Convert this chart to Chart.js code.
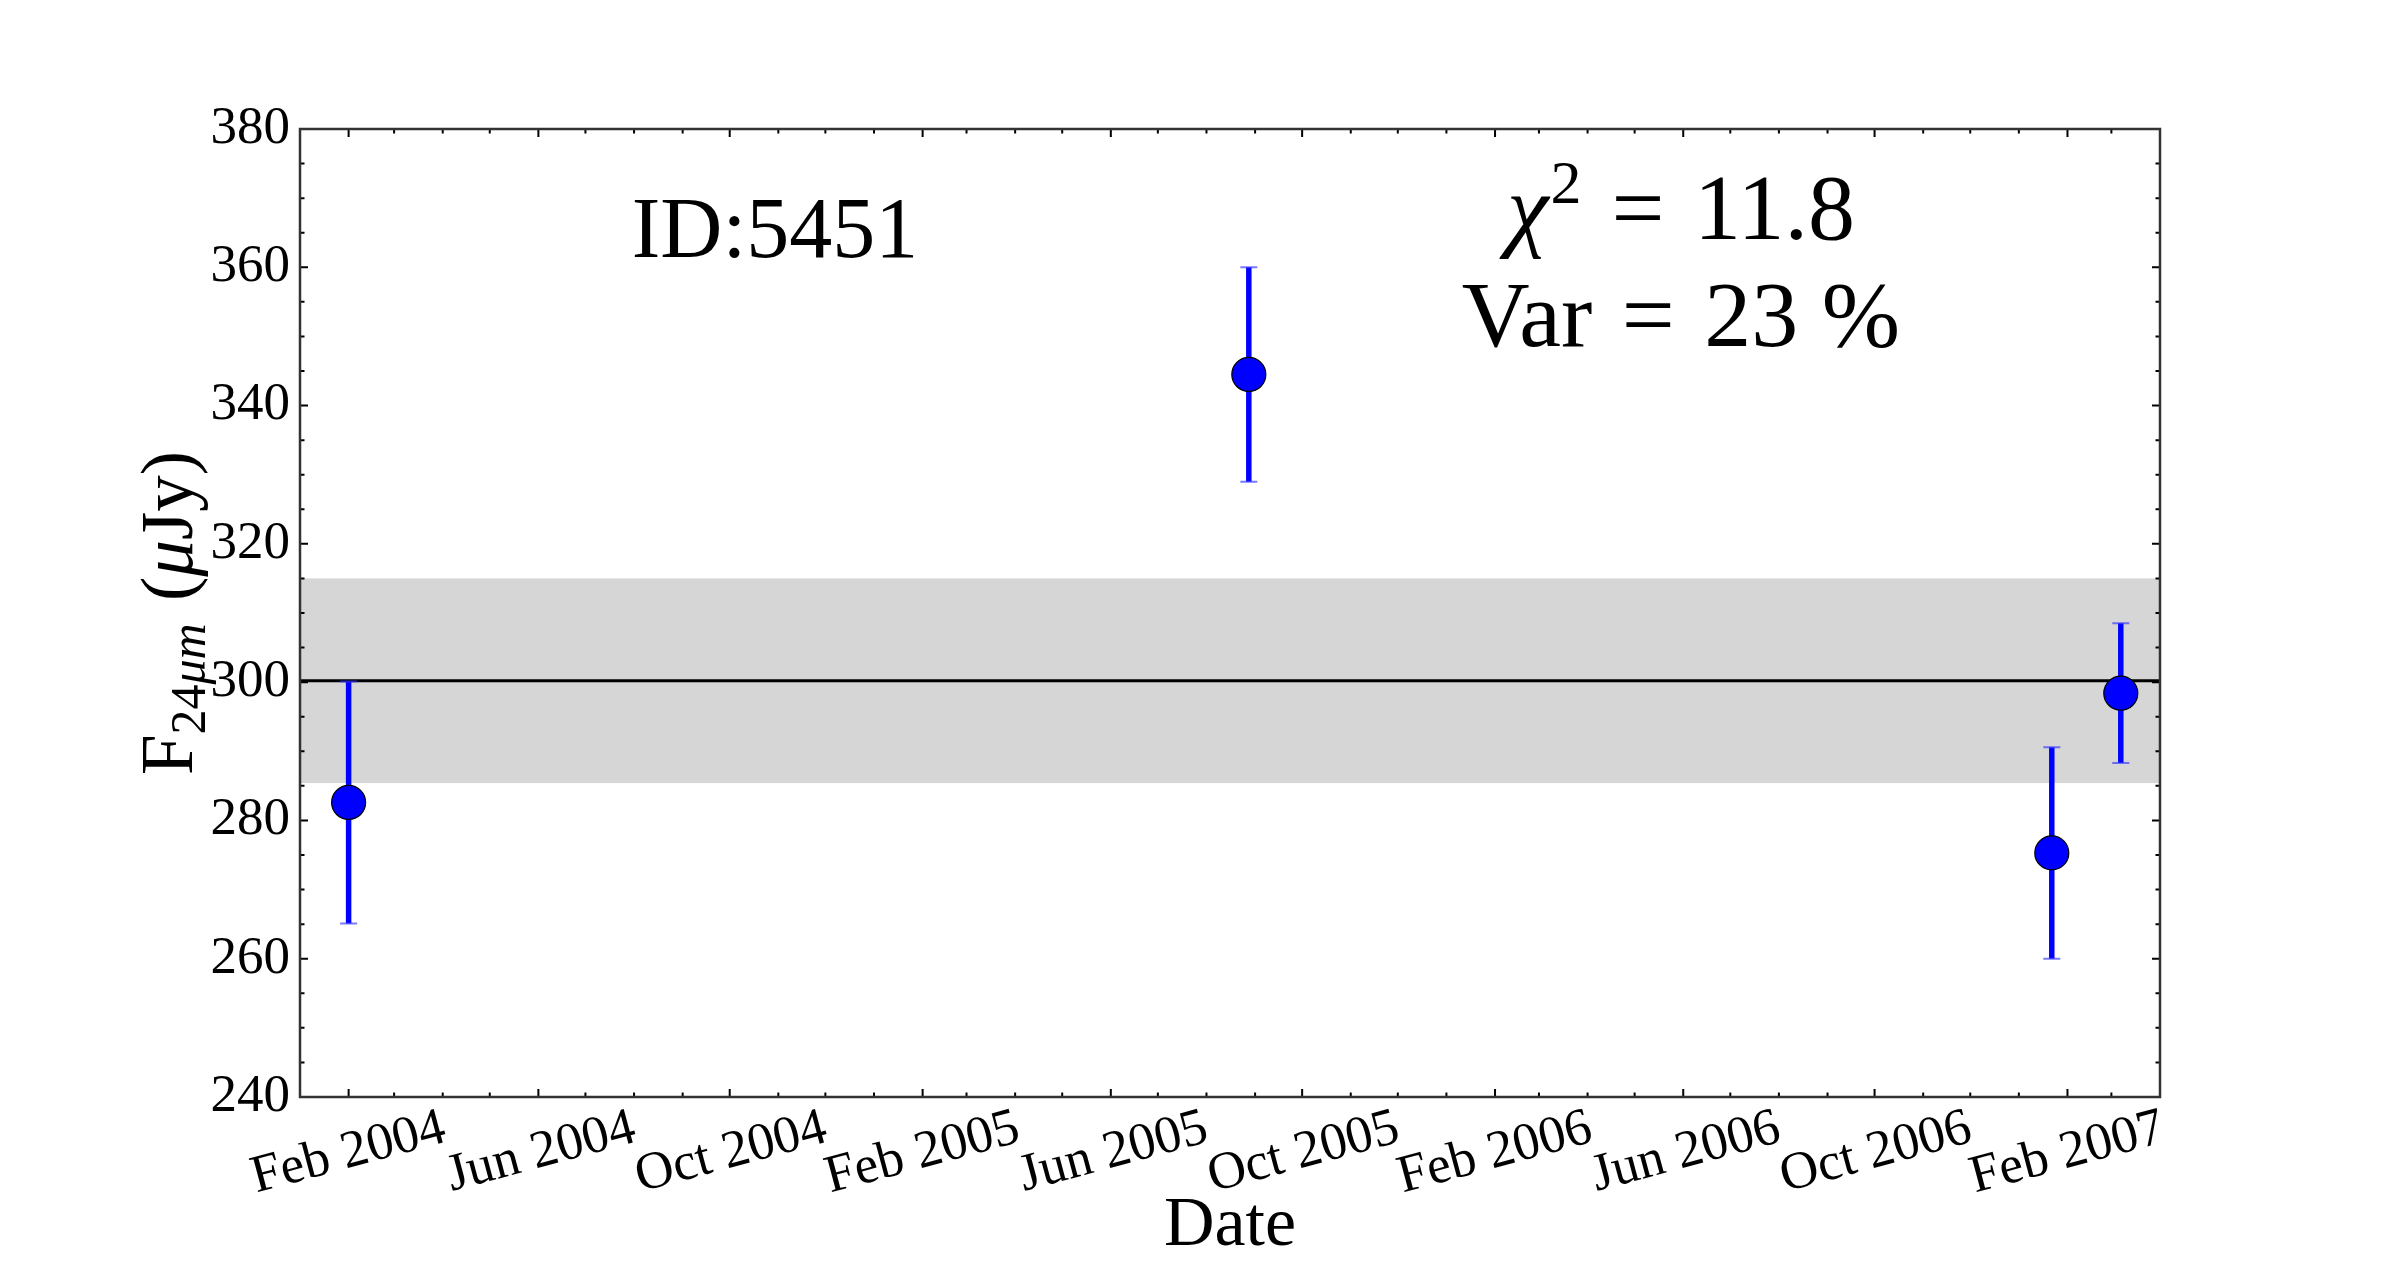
<!DOCTYPE html>
<html>
<head>
<meta charset="utf-8">
<script src="https://cdn.jsdelivr.net/npm/chart.js@4.4.1/dist/chart.umd.min.js"></script>
<style>
html,body{margin:0;padding:0;background:#ffffff;}
#wrap{width:2400px;height:1285px;position:relative;background:#ffffff;}
canvas{display:block;}
</style>
</head>
<body>
<div id="wrap"><canvas id="c" width="2400" height="1285"></canvas></div>
<script>
// ---- data ----
const obsDates   = ['2004-02-01', '2005-08-28', '2007-01-22', '2007-03-07'];
const fluxValues = [282.6, 344.5, 275.3, 298.4];
const fluxErrors = [17.5, 15.5, 15.3, 10.1];
const meanFlux = 300.2;
const bandRange = [285.4, 315.0];
const xTickDates  = ['2004-02-01','2004-06-01','2004-10-01','2005-02-01','2005-06-01','2005-10-01','2006-02-01','2006-06-01','2006-10-01','2007-02-01'];
const xTickLabels = ['Feb 2004','Jun 2004','Oct 2004','Feb 2005','Jun 2005','Oct 2005','Feb 2006','Jun 2006','Oct 2006','Feb 2007'];
const xRange = ['2004-01-01', '2007-04-01'];
const yRange = [240, 380];
const yStep = 20;
const yMinorStep = 5;
const sourceLabel = 'ID:5451';
const chi2Value = '11.8';
const varValue = '23';

const SERIF = "'Liberation Serif', 'DejaVu Serif', serif";
function day(s){ return Date.parse(s + 'T00:00:00Z') / 864e5; }

function drawPieces(ctx, pieces, cx, baseY){
  let total = 0;
  pieces.forEach(p => { ctx.font = p.font; p.w = ctx.measureText(p.t).width + (p.gap || 0); total += p.w; });
  let x = cx - total / 2;
  pieces.forEach(p => {
    ctx.font = p.font;
    ctx.fillText(p.t, x, baseY + (p.dy || 0));
    x += p.w;
  });
}

const decor = {
  id: 'decor',
  beforeDatasetsDraw(chart){
    const {ctx, chartArea: a, scales: {x, y}} = chart;
    ctx.save();
    // 1-sigma band
    const yt = y.getPixelForValue(bandRange[1]);
    const yb = y.getPixelForValue(bandRange[0]);
    ctx.fillStyle = '#d6d6d6';
    ctx.fillRect(a.left, yt, a.right - a.left, yb - yt);
    // mean line
    const ym = y.getPixelForValue(meanFlux);
    ctx.strokeStyle = '#000000';
    ctx.lineWidth = 3;
    ctx.beginPath(); ctx.moveTo(a.left, ym); ctx.lineTo(a.right, ym); ctx.stroke();
    // error bars
    obsDates.forEach((d, i) => {
      const px = x.getPixelForValue(day(d));
      const p1 = y.getPixelForValue(fluxValues[i] + fluxErrors[i]);
      const p2 = y.getPixelForValue(fluxValues[i] - fluxErrors[i]);
      ctx.strokeStyle = '#0000ff';
      ctx.lineWidth = 5.5;
      ctx.beginPath(); ctx.moveTo(px, p1); ctx.lineTo(px, p2); ctx.stroke();
      ctx.strokeStyle = 'rgba(50,50,255,0.65)';
      ctx.lineWidth = 2;
      ctx.beginPath();
      ctx.moveTo(px - 8.5, p1); ctx.lineTo(px + 8.5, p1);
      ctx.moveTo(px - 8.5, p2); ctx.lineTo(px + 8.5, p2);
      ctx.stroke();
    });
    ctx.restore();
  },
  afterDraw(chart){
    const {ctx, chartArea: a, scales: {x, y}} = chart;
    ctx.save();
    // ticks (inward, all four sides)
    ctx.strokeStyle = '#000000';
    ctx.lineWidth = 2;
    ctx.beginPath();
    const majLen = 8, minLen = 4.5;
    const start = new Date(xRange[0] + 'T00:00:00Z');
    const endDay = day(xRange[1]);
    for (let m = 0; m < 60; m++){
      const d = Date.UTC(start.getUTCFullYear(), start.getUTCMonth() + m, 1) / 864e5;
      if (d > endDay) break;
      const px = x.getPixelForValue(d);
      ctx.moveTo(px, a.bottom); ctx.lineTo(px, a.bottom - minLen);
      ctx.moveTo(px, a.top); ctx.lineTo(px, a.top + minLen);
    }
    xTickDates.forEach(s => {
      const px = x.getPixelForValue(day(s));
      ctx.moveTo(px, a.bottom); ctx.lineTo(px, a.bottom - majLen);
      ctx.moveTo(px, a.top); ctx.lineTo(px, a.top + majLen);
    });
    for (let v = yRange[0]; v <= yRange[1] + 1e-9; v += yMinorStep){
      const py = y.getPixelForValue(v);
      const len = (Math.abs((v - yRange[0]) % yStep) < 1e-9) ? majLen : minLen;
      ctx.moveTo(a.left, py); ctx.lineTo(a.left + len, py);
      ctx.moveTo(a.right, py); ctx.lineTo(a.right - len, py);
    }
    ctx.stroke();
    // frame
    ctx.strokeStyle = '#333333';
    ctx.lineWidth = 2.5;
    ctx.strokeRect(a.left, a.top, a.right - a.left, a.bottom - a.top);

    // texts
    ctx.fillStyle = '#000000';
    ctx.textAlign = 'left';
    ctx.textBaseline = 'alphabetic';
    const cx = (a.left + a.right) / 2;
    // x title
    drawPieces(ctx, [{t: 'Date', font: `70px ${SERIF}`}], cx, 1245);
    // y title (rotated)
    ctx.save();
    ctx.translate(192, (a.top + a.bottom) / 2);
    ctx.rotate(-Math.PI / 2);
    drawPieces(ctx, [
      {t: 'F', font: `73px ${SERIF}`},
      {t: '24', font: `50px ${SERIF}`, dy: 13},
      {t: '\u03bcm', font: `italic 50px ${SERIF}`, dy: 13, gap: 4},
      {t: ' (', font: `73px ${SERIF}`},
      {t: '\u03bc', font: `italic 73px ${SERIF}`},
      {t: 'Jy)', font: `73px ${SERIF}`}
    ], 0, 0);
    ctx.restore();
    // annotations
    drawPieces(ctx, [{t: sourceLabel, font: `86px ${SERIF}`}], 775, 257);
    drawPieces(ctx, [
      {t: '\u03c7', font: `italic 94px ${SERIF}`, gap: 2},
      {t: '2', font: `62px ${SERIF}`, dy: -36, gap: 30},
      {t: '= ', font: `94px ${SERIF}`, gap: 6},
      {t: chi2Value, font: `94px ${SERIF}`}
    ], 1681, 239);
    drawPieces(ctx, [
      {t: 'Var ', font: `94px ${SERIF}`, gap: 6},
      {t: '= ', font: `94px ${SERIF}`, gap: 6},
      {t: varValue + ' %', font: `94px ${SERIF}`}
    ], 1681, 346);
    ctx.restore();
  }
};

new Chart(document.getElementById('c'), {
  type: 'scatter',
  data: {
    datasets: [{
      data: obsDates.map((d, i) => ({x: day(d), y: fluxValues[i]})),
      pointRadius: 17,
      pointHoverRadius: 17,
      backgroundColor: '#0000ff',
      borderColor: '#000000',
      borderWidth: 1.2,
      pointHoverBorderWidth: 1.2
    }]
  },
  options: {
    responsive: false,
    devicePixelRatio: 1,
    animation: false,
    events: [],
    layout: {padding: {top: 129, right: 240, left: 0, bottom: 0}},
    plugins: {legend: {display: false}, tooltip: {enabled: false}},
    scales: {
      x: {
        type: 'linear',
        min: day(xRange[0]),
        max: day(xRange[1]),
        grid: {display: false, drawTicks: false},
        border: {display: false},
        afterBuildTicks: s => { s.ticks = xTickDates.map(d => ({value: day(d)})); },
        afterFit: s => { s.height = 188; },
        ticks: {
          autoSkip: false,
          minRotation: 15,
          maxRotation: 15,
          labelOffset: 96,
          padding: 0,
          color: '#000000',
          font: {family: SERIF, size: 53},
          callback: (v, i) => xTickLabels[i]
        }
      },
      y: {
        min: yRange[0],
        max: yRange[1],
        grid: {display: false, drawTicks: false},
        border: {display: false},
        afterFit: s => { s.width = 300; },
        ticks: {
          stepSize: yStep,
          padding: 10,
          color: '#000000',
          font: {family: SERIF, size: 53}
        }
      }
    }
  },
  plugins: [decor]
});
</script>
</body>
</html>
